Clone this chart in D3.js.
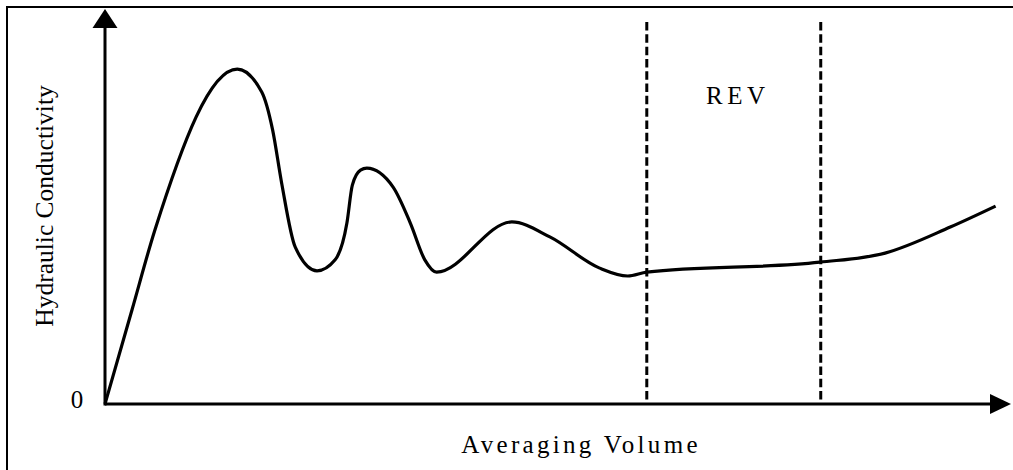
<!DOCTYPE html>
<html>
<head>
<meta charset="utf-8">
<script src="https://cdn.jsdelivr.net/npm/d3@7"></script>
<style>
  html, body { margin: 0; padding: 0; background: #fff; }
  svg { display: block; }
  text { font-family: "Liberation Serif", "Times New Roman", serif; fill: #000; }
</style>
</head>
<body>
<svg id="chart"></svg>
<script>
// conceptual REV curve: conductivity vs averaging volume (arbitrary units)
const volume = [0, 0.30, 0.55, 1.46, 1.73, 1.85, 1.95, 2.10, 2.34, 2.54, 2.67, 2.73, 2.82, 2.89,
  3.18, 3.37, 3.53, 3.66, 4.49, 4.91, 5.46, 5.77, 5.98, 7.89, 8.61, 9.33, 9.83];
const conductivity = [0, 2.40, 4.40, 8.48, 7.90, 6.94, 5.59, 3.97, 3.37, 3.65, 4.58, 5.54, 5.92, 5.97,
  5.49, 4.58, 3.65, 3.34, 4.61, 4.23, 3.44, 3.24, 3.34, 3.59, 3.82, 4.48, 5.01];

// REV window bounds
const revBounds = [5.98, 7.90];
const revTop = 9.67;

const xLabel = "Averaging Volume";
const yLabel = "Hydraulic Conductivity";
const zeroLabel = "0";
const revLabel = "REV";

const width = 1013;
const height = 470;

const svg = d3.select("#chart")
  .attr("width", width)
  .attr("height", height);

// outer frame (right/bottom edges run off the picture)
svg.append("rect")
  .attr("x", 7)
  .attr("y", 7)
  .attr("width", width + 20)
  .attr("height", height + 20)
  .attr("fill", "none")
  .attr("stroke", "#000")
  .attr("stroke-width", 2);

const x = d3.scaleLinear().domain([0, 10]).range([105, 1011]);
const y = d3.scaleLinear().domain([0, 10]).range([404, 9]);

// axes with arrow heads
const x0 = x(0), y0 = y(0);
svg.append("line")
  .attr("x1", x0).attr("y1", y0)
  .attr("x2", x.range()[1] - 10).attr("y2", y0)
  .attr("stroke", "#000").attr("stroke-width", 3);
svg.append("line")
  .attr("x1", x0).attr("y1", y0 + 1.5)
  .attr("x2", x0).attr("y2", y.range()[1] + 10)
  .attr("stroke", "#000").attr("stroke-width", 3);

const xe = x.range()[1], ye = y.range()[1];
svg.append("path")
  .attr("d", `M${xe},${y0} L${xe - 21},${y0 - 10} L${xe - 21},${y0 + 10} Z`)
  .attr("fill", "#000");
svg.append("path")
  .attr("d", `M${x0},${ye} L${x0 - 12.5},${ye + 19} L${x0 + 12.5},${ye + 19} Z`)
  .attr("fill", "#000");

// REV dashed bounds
svg.selectAll(".rev")
  .data(revBounds)
  .enter()
  .append("line")
  .attr("class", "rev")
  .attr("x1", d => x(d)).attr("x2", d => x(d))
  .attr("y1", y(revTop)).attr("y2", y0 - 1.5)
  .attr("stroke", "#000")
  .attr("stroke-width", 3)
  .attr("stroke-dasharray", "8.5,3.8");

// the curve
const pts = volume.map((v, i) => [v, conductivity[i]]);
const line = d3.line()
  .x(d => x(d[0]))
  .y(d => y(d[1]))
  .curve(d3.curveMonotoneX);

svg.append("path")
  .datum(pts)
  .attr("d", line)
  .attr("fill", "none")
  .attr("stroke", "#000")
  .attr("stroke-width", 3.2)
  .attr("stroke-linejoin", "round");

// labels
svg.append("text")
  .attr("x", (x(revBounds[0]) + x(revBounds[1])) / 2 + 4)
  .attr("y", 104)
  .attr("text-anchor", "middle")
  .attr("font-size", 25)
  .attr("letter-spacing", 4.5)
  .text(revLabel);

svg.append("text")
  .attr("x", 77)
  .attr("y", 408)
  .attr("text-anchor", "middle")
  .attr("font-size", 25)
  .text(zeroLabel);

svg.append("text")
  .attr("x", 581)
  .attr("y", 453)
  .attr("text-anchor", "middle")
  .attr("font-size", 25)
  .attr("letter-spacing", 3.3)
  .text(xLabel);

svg.append("text")
  .attr("transform", "translate(53,206) rotate(-90)")
  .attr("text-anchor", "middle")
  .attr("font-size", 25.5)
  .text(yLabel);
</script>
</body>
</html>
